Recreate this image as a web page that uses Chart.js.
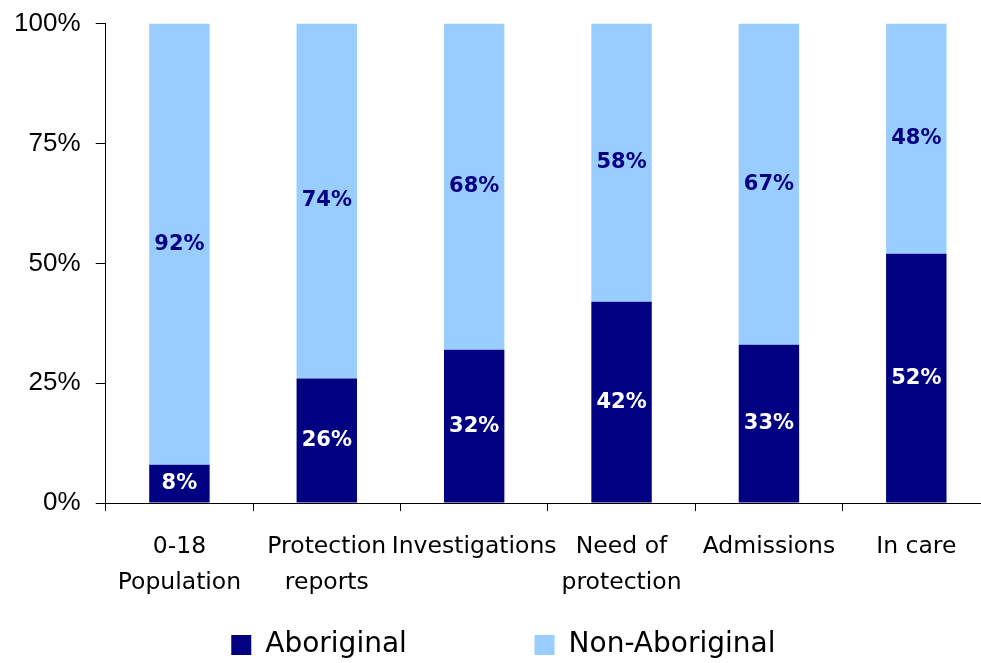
<!DOCTYPE html>
<html>
<head>
<meta charset="utf-8">
<script src="https://cdn.jsdelivr.net/npm/chart.js@4.4.1/dist/chart.umd.min.js"></script>
<style>
  html, body { margin: 0; padding: 0; background: #fff; overflow: hidden; }
  #wrap { width: 990px; height: 663px; }
</style>
</head>
<body>
<div id="wrap"><canvas id="shareChart"></canvas></div>
<script>
const categories = [
    ['0-18', 'Population'],
    ['Protection', 'reports'],
    'Investigations',
    ['Need of', 'protection'],
    'Admissions',
    'In care'
];
const aboriginal = [8, 26, 32, 42, 33, 52];       // % Aboriginal
const nonAboriginal = [92, 74, 68, 58, 67, 48];   // % Non-Aboriginal
const yTicks = [0, 25, 50, 75, 100];

// draws the % value in the middle of each bar segment
const segmentLabels = {
    id: 'segmentLabels',
    afterDatasetsDraw(chart) {
        const ctx = chart.ctx;
        ctx.save();
        ctx.font = 'bold 21px "DejaVu Sans"';
        ctx.textAlign = 'center';
        ctx.textBaseline = 'middle';
        chart.data.datasets.forEach((ds, i) => {
            ctx.fillStyle = ds.labelColor;
            chart.getDatasetMeta(i).data.forEach((bar, j) => {
                ctx.fillText(ds.data[j] + '%', bar.x, (bar.y + bar.base) / 2);
            });
        });
        ctx.restore();
    }
};

const nbsp = n => '\u00a0'.repeat(n);

const ctx = document.getElementById('shareChart').getContext('2d');
const shareChart = new Chart(ctx, {
    type: 'bar',
    data: {
        labels: categories,
        datasets: [
            {
                label: 'Aboriginal',
                data: aboriginal,
                backgroundColor: '#000080',
                labelColor: '#ffffff'
            },
            {
                label: 'Non-Aboriginal',
                data: nonAboriginal,
                backgroundColor: '#99CCFF',
                labelColor: '#000080'
            }
        ]
    },
    options: {
        responsive: true,
        maintainAspectRatio: false,
        animation: false,
        categoryPercentage: 0.41,
        barPercentage: 1,
        layout: { padding: { top: 0, left: 6, right: 0, bottom: -6 } },
        plugins: {
            tooltip: { enabled: false },
            legend: {
                position: 'bottom',
                fullSize: false,
                labels: {
                    font: { family: '"DejaVu Sans"', size: 28 },
                    color: '#000',
                    boxWidth: 20,
                    boxHeight: 20,
                    padding: 12,
                    // spacing of the two entries as in the original
                    generateLabels(chart) {
                        const items = Chart.defaults.plugins.legend.labels.generateLabels(chart);
                        items[0].text += nbsp(13);
                        items[1].text += nbsp(10);
                        return items;
                    }
                }
            }
        },
        scales: {
            x: {
                stacked: true,
                grid: {
                    offset: true,
                    drawOnChartArea: false,
                    color: '#000',
                    tickLength: 8
                },
                border: { color: '#000' },
                ticks: {
                    font: { family: '"DejaVu Sans"', size: 23.5, lineHeight: 1.53 },
                    color: '#000',
                    padding: 18,
                    maxRotation: 0,
                    autoSkip: false
                }
            },
            y: {
                stacked: true,
                min: 0,
                max: 100,
                afterBuildTicks(axis) {
                    axis.ticks = yTicks.map(v => ({ value: v }));
                },
                grid: {
                    drawOnChartArea: false,
                    color: '#000',
                    tickLength: 10
                },
                border: { color: '#000' },
                ticks: {
                    font: { family: '"Liberation Sans"', size: 26 },
                    color: '#000',
                    padding: 8,
                    callback: v => v + '%\u00a0'
                }
            }
        }
    },
    plugins: [segmentLabels]
});
</script>
</body>
</html>
